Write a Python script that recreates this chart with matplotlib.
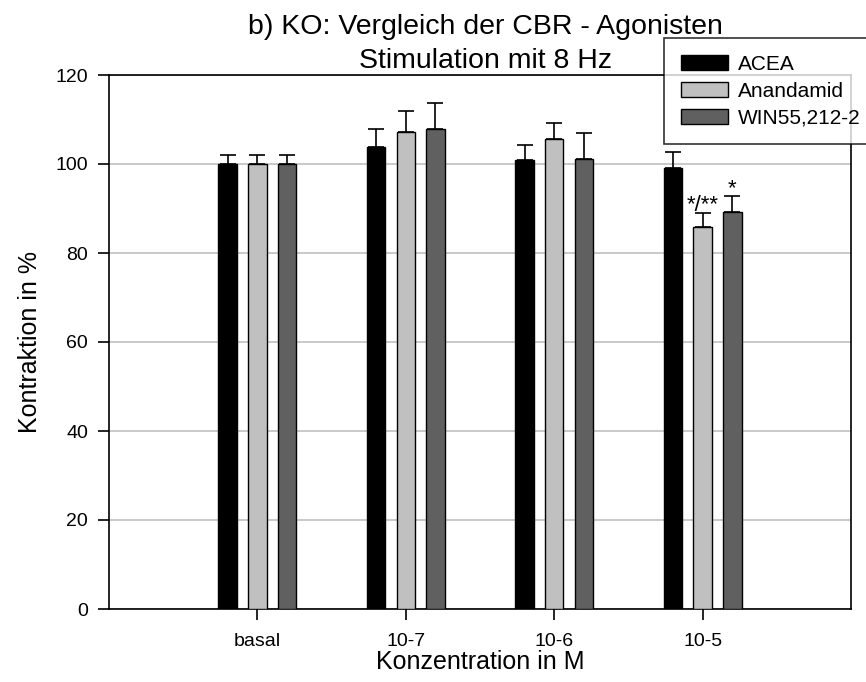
import matplotlib
matplotlib.use("Agg")
import matplotlib.pyplot as plt
import numpy as np

plt.rcParams['font.family'] = ['Liberation Sans', 'DejaVu Sans']

categories = ["basal", "10-7", "10-6", "10-5"]
series_names = ["ACEA", "Anandamid", "WIN55,212-2"]
acea = [100.0, 103.9, 101.0, 99.2]
acea_err = [2.0, 4.0, 3.3, 3.6]
anandamid = [100.0, 107.3, 105.7, 85.9]
anandamid_err = [2.0, 4.6, 3.6, 3.1]
win = [100.0, 107.8, 101.2, 89.2]
win_err = [2.0, 6.0, 5.8, 3.5]
significance = {(1, 3): "*/**", (2, 3): "*"}

colors = ["#000000", "#c0c0c0", "#606060"]
W, H = 866, 682
fig = plt.figure(figsize=(W / 100, H / 100), dpi=100)
ax = fig.add_axes([109 / W, 1 - 609 / H, (851 - 109) / W, (609 - 75) / H])

x = np.arange(1, len(categories) + 1)
offsets = [-0.2, 0.0, 0.2]
width = 0.125
values = [acea, anandamid, win]
errors = [acea_err, anandamid_err, win_err]

handles = []
for i, (vals, errs) in enumerate(zip(values, errors)):
    pos = x + offsets[i]
    b = ax.bar(pos, vals, width, color=colors[i], edgecolor="black",
               linewidth=1.0, zorder=3, label=series_names[i])
    handles.append(b)
    ax.errorbar(pos, vals, yerr=[np.zeros(len(vals)), errs], fmt="none",
                ecolor="black", elinewidth=1.2, capsize=6, capthick=1.2,
                zorder=4)

for (si, ci), txt in significance.items():
    top = values[si][ci] + errors[si][ci]
    ax.text(x[ci] + offsets[si], top - 0.6, txt, ha="center", va="bottom",
            fontsize=16, zorder=5)

ax.set_xlim(0, 5)
ax.set_ylim(0, 120)
ax.set_yticks(np.arange(0, 121, 20))
ax.set_xticks(x)
ax.set_xticklabels(categories)
ax.yaxis.grid(True, color="#c0c0c0", linewidth=1.2, zorder=0)
ax.set_axisbelow(True)
for s in ax.spines.values():
    s.set_linewidth(1.2)
ax.tick_params(axis="both", direction="out", length=8, width=1.2,
               labelsize=14)
ax.tick_params(axis="x", pad=9)
ax.tick_params(axis="y", pad=7)

ax.set_xlabel("Konzentration in M", fontsize=18, labelpad=0)
ax.set_ylabel("Kontraktion in %", fontsize=18, labelpad=10)

fig.text(485 / W, 1 - 34 / H, "b) KO: Vergleich der CBR - Agonisten",
         ha="center", va="baseline", fontsize=20.5)
fig.text(485 / W, 1 - 68 / H, "Stimulation mit 8 Hz",
         ha="center", va="baseline", fontsize=20.5)

leg = fig.legend(handles=handles, labels=series_names, loc="upper left",
                 bbox_to_anchor=(664 / W, 1 - 38 / H), borderaxespad=0,
                 fontsize=15, frameon=True, fancybox=False, shadow=False,
                 handlelength=2.25, handleheight=0.75, handletextpad=0.5,
                 labelspacing=0.38, borderpad=0.8)
leg.get_frame().set_edgecolor("black")
leg.get_frame().set_linewidth(1.2)
leg.set_zorder(10)

fig.savefig("out.png", dpi=100)
